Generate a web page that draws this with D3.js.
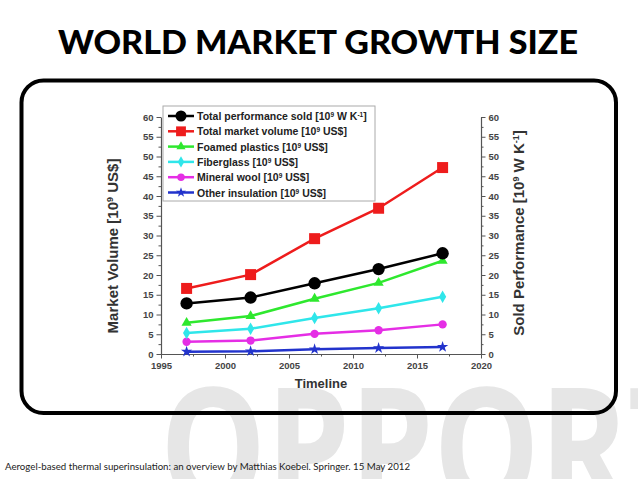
<!DOCTYPE html>
<html>
<head>
<meta charset="utf-8">
<script src="https://cdn.jsdelivr.net/npm/d3@7"></script>
<style>
  body { margin: 0; background: #fff; }
  svg { display: block; }
</style>
</head>
<body>
<div id="chart"></div>
<script>
// data
const years = [1997, 2002, 2007, 2012, 2017];
const totalPerformance = [12.8, 14.3, 17.9, 21.5, 25.5];
const totalMarket = [16.6, 20.1, 29.2, 36.9, 47.2];
const foamedPlastics = [7.9, 9.6, 14.0, 18.0, 23.6];
const fiberglass = [5.3, 6.4, 9.1, 11.6, 14.5];
const mineralWool = [3.1, 3.4, 5.1, 6.0, 7.5];
const otherInsulation = [0.6, 0.7, 1.2, 1.5, 1.8];

const seriesNames = [
  ["Total performance sold [10", "9", " W K", "-1", "]"],
  ["Total market volume [10", "9", " US$]"],
  ["Foamed plastics [10", "9", " US$]"],
  ["Fiberglass [10", "9", " US$]"],
  ["Mineral wool [10", "9", " US$]"],
  ["Other insulation [10", "9", " US$]"]
];
const xTicks = [1995, 2000, 2005, 2010, 2015, 2020];
const yTicks = [0, 5, 10, 15, 20, 25, 30, 35, 40, 45, 50, 55, 60];

const width = 638, height = 479;
const margin = { left: 161, right: 157, top: 117, bottom: 125 };

const svg = d3.select("#chart").append("svg")
  .attr("width", width)
  .attr("height", height);

// watermark behind everything
svg.append("text")
  .attr("x", 160)
  .attr("y", 506)
  .attr("font-family", "'Open Sans', sans-serif")
  .attr("font-weight", 700)
  .attr("font-size", 165)
  .attr("fill", "#e6e6e6")
  .attr("textLength", 545)
  .attr("lengthAdjust", "spacingAndGlyphs")
  .text("OPPORT");

// title
svg.append("text")
  .attr("x", 318)
  .attr("y", 54)
  .attr("text-anchor", "middle")
  .attr("font-family", "Lato, sans-serif")
  .attr("font-weight", 900)
  .attr("font-size", 32)
  .attr("textLength", 520)
  .attr("lengthAdjust", "spacingAndGlyphs")
  .text("WORLD MARKET GROWTH SIZE");

// rounded frame
svg.append("rect")
  .attr("x", 21.5)
  .attr("y", 80.5)
  .attr("width", 594.5)
  .attr("height", 332.5)
  .attr("rx", 22)
  .attr("fill", "none")
  .attr("stroke", "#000")
  .attr("stroke-width", 4);

// footer
svg.append("text")
  .attr("x", 5)
  .attr("y", 470)
  .attr("font-family", "Lato, sans-serif")
  .attr("font-size", 9)
  .attr("fill", "#222")
  .attr("textLength", 405)
  .attr("lengthAdjust", "spacingAndGlyphs")
  .text("Aerogel-based thermal superinsulation: an overview by Matthias Koebel. Springer. 15 May 2012");

const x = d3.scaleLinear()
  .domain([1995, 2020])
  .range([margin.left, width - margin.right]);

const y = d3.scaleLinear()
  .domain([0, 60])
  .range([height - margin.bottom, margin.top]);

const plot = svg.append("g")
  .attr("font-family", "'Liberation Sans', Arial, sans-serif");

function styleAxis(g) {
  g.select(".domain").attr("stroke", "#555").attr("stroke-width", 1.2);
  g.selectAll(".tick line").attr("stroke", "#555").attr("stroke-width", 1);
  g.selectAll(".tick text")
    .attr("fill", "#444")
    .attr("font-weight", "bold")
    .attr("font-size", 9.5)
    .attr("font-family", "'Liberation Sans', Arial, sans-serif");
}

// minor ticks first
const minorY = d3.range(2.5, 60, 5);
const minorX = d3.range(1997.5, 2020, 5);

plot.append("g")
  .attr("transform", `translate(${margin.left},0)`)
  .call(d3.axisLeft(y).tickValues(minorY).tickSize(2.5).tickFormat(""))
  .call(g => g.select(".domain").remove())
  .call(g => g.selectAll(".tick line").attr("stroke", "#555"));

plot.append("g")
  .attr("transform", `translate(${width - margin.right},0)`)
  .call(d3.axisRight(y).tickValues(minorY).tickSize(2.5).tickFormat(""))
  .call(g => g.select(".domain").remove())
  .call(g => g.selectAll(".tick line").attr("stroke", "#555"));

plot.append("g")
  .attr("transform", `translate(0,${height - margin.bottom})`)
  .call(d3.axisBottom(x).tickValues(minorX).tickSize(2.5).tickFormat(""))
  .call(g => g.select(".domain").remove())
  .call(g => g.selectAll(".tick line").attr("stroke", "#555"));

// major axes
plot.append("g")
  .attr("transform", `translate(${margin.left},0)`)
  .call(d3.axisLeft(y).tickValues(yTicks).tickSize(4.5).tickSizeOuter(0).tickPadding(3))
  .call(styleAxis);

plot.append("g")
  .attr("transform", `translate(${width - margin.right},0)`)
  .call(d3.axisRight(y).tickValues(yTicks).tickSize(4.5).tickSizeOuter(0).tickPadding(3))
  .call(styleAxis);

plot.append("g")
  .attr("transform", `translate(0,${height - margin.bottom})`)
  .call(d3.axisBottom(x).tickValues(xTicks).tickFormat(d3.format("d")).tickSize(4.5).tickSizeOuter(0).tickPadding(4))
  .call(styleAxis);

// axis titles
function titleWithSup(g, parts, size) {
  const t = g.append("text")
    .attr("font-weight", "bold")
    .attr("font-size", size)
    .attr("fill", "#333")
    .attr("text-anchor", "middle");
  parts.forEach((p, i) => {
    const span = t.append("tspan").text(p);
    if (i % 2 === 1) {
      span.attr("font-size", size * 0.6).attr("baseline-shift", "super");
    }
  });
  return t;
}

titleWithSup(plot.append("g").attr("transform", "translate(118,246) rotate(-90)"),
  ["Market Volume [10", "9", " US$]"], 15);
titleWithSup(plot.append("g").attr("transform", "translate(524,233) rotate(-90)"),
  ["Sold Performance [10", "9", " W K", "-1", "]"], 15);

plot.append("text")
  .attr("x", (x.range()[0] + x.range()[1]) / 2)
  .attr("y", 388)
  .attr("text-anchor", "middle")
  .attr("font-weight", "bold")
  .attr("font-size", 13)
  .attr("fill", "#333")
  .text("Timeline");

// series
const series = [
  { values: totalPerformance, color: "#000000", symbol: d3.symbolCircle, size: 120 },
  { values: totalMarket, color: "#ee1c1c", symbol: d3.symbolSquare, size: 121 },
  { values: foamedPlastics, color: "#2ee82e", symbol: d3.symbolTriangle, size: 45 },
  { values: fiberglass, color: "#2fe6ea", symbol: d3.symbolDiamond, size: 45 },
  { values: mineralWool, color: "#e52ee5", symbol: d3.symbolCircle, size: 55 },
  { values: otherInsulation, color: "#2233cc", symbol: d3.symbolStar, size: 40 }
];

const line = d3.line()
  .x(d => x(d[0]))
  .y(d => y(d[1]));

const lines = plot.append("g");
series.slice().reverse().forEach(s => {
  const pts = years.map((yr, i) => [yr, s.values[i]]);
  lines.append("path")
    .datum(pts)
    .attr("d", line)
    .attr("fill", "none")
    .attr("stroke", s.color)
    .attr("stroke-width", 2.5);
  lines.selectAll(null)
    .data(pts)
    .join("path")
    .attr("transform", d => `translate(${x(d[0])},${y(d[1])})`)
    .attr("d", d3.symbol().type(s.symbol).size(s.size))
    .attr("fill", s.color);
});

// legend
const legend = plot.append("g");
legend.append("rect")
  .attr("x", 163)
  .attr("y", 106)
  .attr("width", 212)
  .attr("height", 95)
  .attr("fill", "#fff")
  .attr("stroke", "#aaa")
  .attr("stroke-width", 1);

series.forEach((s, i) => {
  const ly = 116 + i * 15.3;
  legend.append("line")
    .attr("x1", 168).attr("x2", 194)
    .attr("y1", ly).attr("y2", ly)
    .attr("stroke", s.color)
    .attr("stroke-width", 2.5);
  legend.append("path")
    .attr("transform", `translate(181,${ly})`)
    .attr("d", d3.symbol().type(s.symbol).size(s.size * 0.8))
    .attr("fill", s.color);
  const t = legend.append("text")
    .attr("x", 197)
    .attr("y", ly + 4)
    .attr("font-weight", "bold")
    .attr("font-size", 10.5)
    .attr("fill", "#222");
  seriesNames[i].forEach((p, k) => {
    const span = t.append("tspan").text(p);
    if (k % 2 === 1) span.attr("font-size", 6.5).attr("baseline-shift", "super");
  });
});
</script>
</body>
</html>
